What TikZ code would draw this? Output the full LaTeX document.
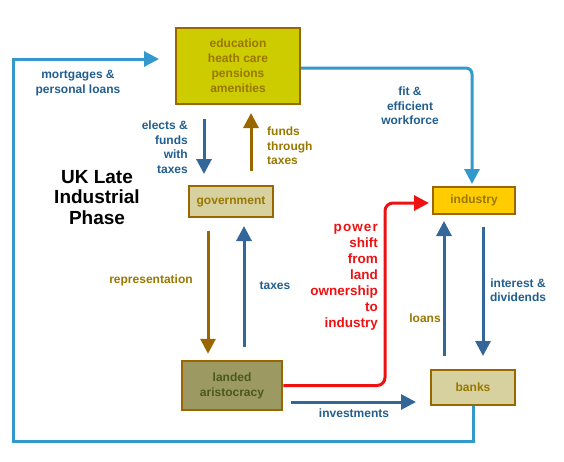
\documentclass[tikz,border=0pt]{standalone}
\usepackage{fontspec}
\setmainfont{Liberation Sans}
\usetikzlibrary{arrows.meta,calc}
\definecolor{lblue}{HTML}{3399CC}
\definecolor{dblue}{HTML}{336699}
\definecolor{tblue}{HTML}{215E8F}
\definecolor{brn}{HTML}{996600}
\definecolor{tbrn}{HTML}{997700}
\definecolor{rred}{HTML}{EE1111}
\definecolor{eduf}{HTML}{CCCC00}
\definecolor{khaki}{HTML}{D7D1A0}
\definecolor{indf}{HTML}{FFCC00}
\definecolor{landf}{HTML}{9C9A62}
\definecolor{landt}{HTML}{4A5A1A}
\begin{document}
\begin{tikzpicture}[x=1pt,y=-1pt,
  box/.style={draw=brn,line width=2pt,align=center,font=\bfseries\fontsize{12}{15}\selectfont,text=tbrn,inner sep=0pt},
  tip/.style={-{Triangle[width=15pt,length=15pt]}},
  arr/.style={tip,line width=3pt},
  lbl/.style={font=\bfseries\fontsize{12}{14.5}\selectfont,text=tblue,inner sep=0pt},
  blbl/.style={lbl,text=tbrn}]
\useasboundingbox (0,0) rectangle (564,461);
\node[box,fill=eduf,minimum width=124pt,minimum height=76pt] (edu) at (238,66) {education\\heath care\\pensions\\amenities};
\node[box,fill=khaki,minimum width=84pt,minimum height=31pt] (gov) at (231,201.5) {government};
\node[box,fill=indf,minimum width=82pt,minimum height=27pt] (ind) at (474,200.5) {industry};
\node[box,fill=landf,line width=2.5pt,text=landt,minimum width=100pt,minimum height=49pt] (land) at (232,385.5) {landed\\aristocracy};
\node[box,fill=khaki,minimum width=84pt,minimum height=35pt] (banks) at (473,387.5) {banks};
\coordinate (bl) at (13,441);
\coordinate (rc) at (385,0);
% connectors
\draw[arr,lblue,shorten >=16pt] (banks.south) |- (bl) |- ([yshift=7pt]edu.west);
\draw[arr,lblue,rounded corners=6pt,shorten >=2pt] ([yshift=-2pt]edu.east) -| ([xshift=-2pt]ind.north);
\draw[arr,dblue,shorten <=14pt,shorten >=11pt] ([xshift=-34pt]edu.south) -- ([xshift=-27pt]gov.north);
\draw[arr,brn,shorten <=14pt,shorten >=8pt] ([xshift=20pt]gov.north) -- ([xshift=13pt]edu.south);
\draw[arr,brn,shorten <=13pt,shorten >=6pt] ([xshift=-23pt]gov.south) -- ([xshift=-24pt]land.north);
\draw[arr,dblue,shorten <=13pt,shorten >=8pt] ([xshift=12pt]land.north) -- ([xshift=13pt]gov.south);
\draw[arr,dblue,shorten <=13pt,shorten >=6pt] ([xshift=-29pt]banks.north) -- ([xshift=-30pt]ind.south);
\draw[arr,dblue,shorten <=12pt,shorten >=13pt] ([xshift=9pt]ind.south) -- ([xshift=10pt]banks.north);
\draw[arr,dblue,shorten <=8pt,shorten >=14pt] ([yshift=-16.5pt]land.east) -- ([yshift=-14.5pt]banks.west);
\draw[arr,rred,rounded corners=8pt,shorten >=3pt] (land.east) -- (land.east -| rc) -- ([yshift=-2.5pt]ind.west -| rc) -- ([yshift=-2.5pt]ind.west);
% labels
\node[lbl,align=center] (l1) at (78,83) {mortgages \&\\personal loans};
\node[lbl,align=right,anchor=east] (l2) at (188,147) {elects \&\\funds\\with\\taxes};
\node[blbl,align=left,anchor=west] (l3) at (267,146) {funds\\through\\taxes};
\node[font=\bfseries\fontsize{19}{20.5}\selectfont,align=center,inner sep=0pt] (title) at (97,197.5) {UK Late\\Industrial\\Phase};
\node[lbl,align=center] (l4) at (410,106) {fit \&\\efficient\\workforce};
\node[blbl] (l5) at (151,280) {representation};
\node[lbl] (l6) at (275,286) {taxes};
\node[font=\bfseries\fontsize{13.5}{16}\selectfont,text=rred,align=right,anchor=east,inner sep=0pt] (l7) at (378,277.5) {\addfontfeature{LetterSpace=8}power\\shift\\from\\land\\ownership\\to\\industry};
\node[blbl] (l8) at (425,318) {loans};
\node[lbl,align=center] (l9) at (518,290) {interest \&\\dividends};
\node[lbl] (l10) at (354,413) {investments};
\end{tikzpicture}
\end{document}
